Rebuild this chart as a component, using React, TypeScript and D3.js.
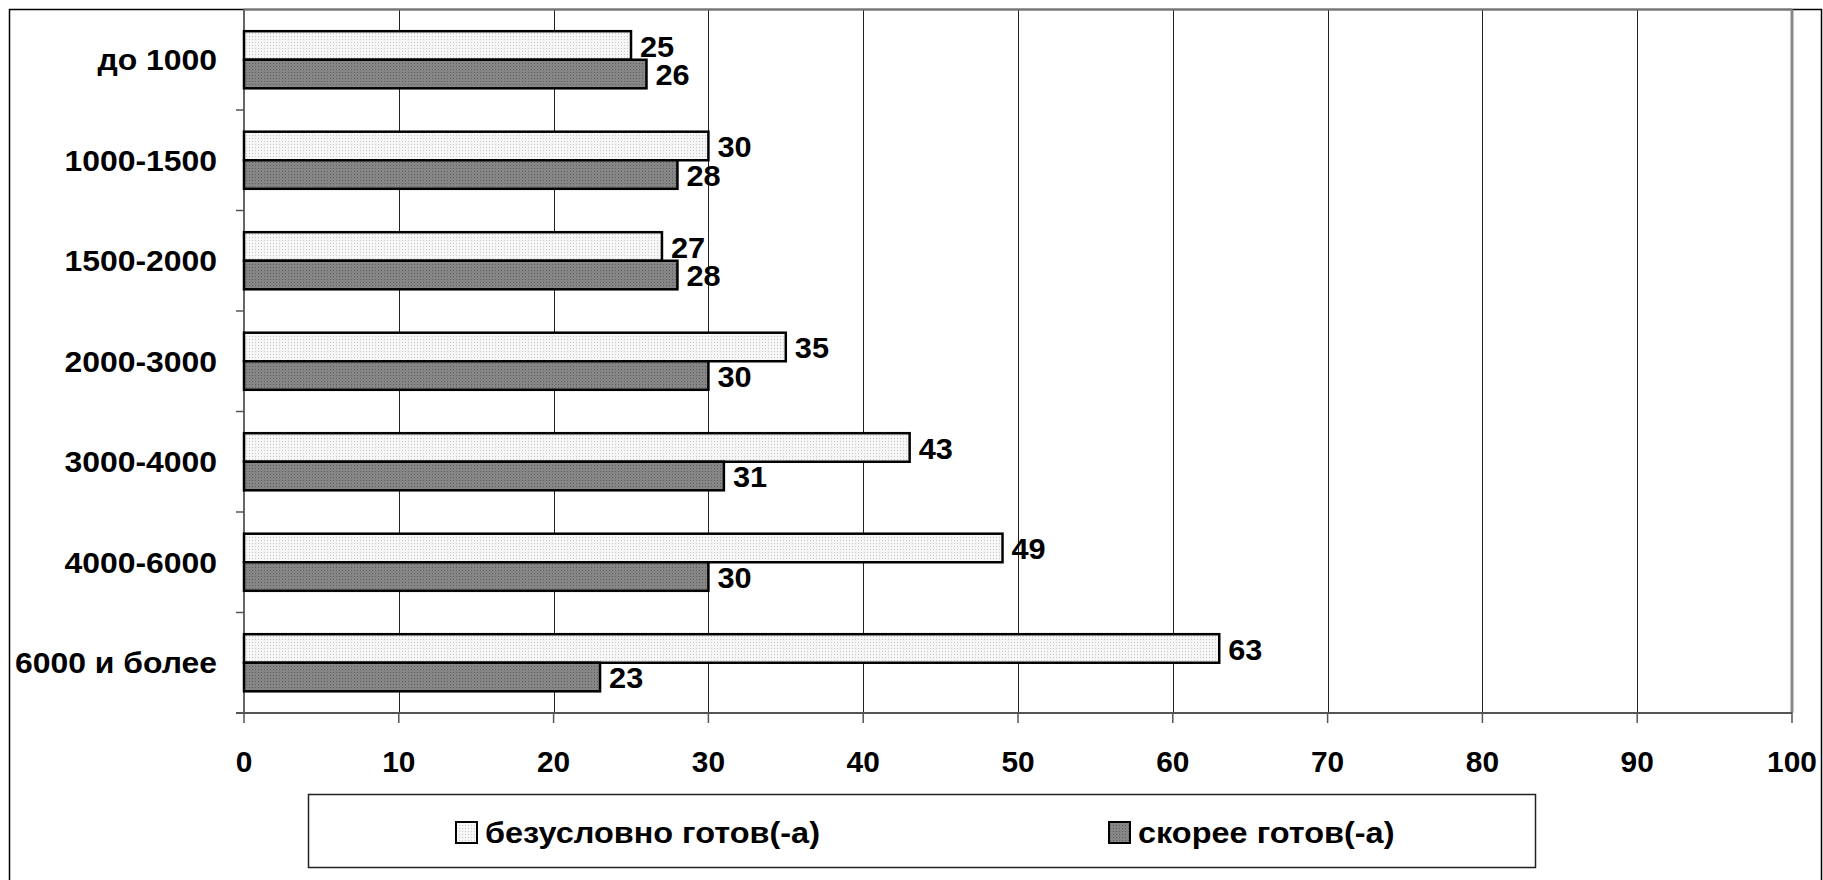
import React, { useEffect, useRef } from 'react';
import * as d3 from 'd3';

const categories = ['до 1000', '1000-1500', '1500-2000', '2000-3000', '3000-4000', '4000-6000', '6000 и более'];
const seriesNames = ['безусловно готов(-а)', 'скорее готов(-а)'];
const definitelyValues = [25, 30, 27, 35, 43, 49, 63];
const ratherValues = [26, 28, 28, 30, 31, 30, 23];
const xTicks = [0, 10, 20, 30, 40, 50, 60, 70, 80, 90, 100];

const W = 1823;
const H = 880;

const App: React.FC = () => {
  const ref = useRef<SVGSVGElement>(null);

  useEffect(() => {
    if (!ref.current) return;
    const svg = d3.select(ref.current);
    svg.selectAll('*').remove();

    const font = '"Liberation Sans", Arial, sans-serif';
    const plot = { left: 244, right: 1792, top: 9.5, bottom: 713 };

    // motifs pointillés des barres
    const defs = svg.append('defs');
    const light = defs.append('pattern').attr('id', 'pat-light')
      .attr('width', 3).attr('height', 3).attr('patternUnits', 'userSpaceOnUse');
    light.append('rect').attr('width', 3).attr('height', 3).attr('fill', '#f6f6f6');
    light.append('rect').attr('width', 1).attr('height', 1).attr('fill', '#c8c8c8');
    const dark = defs.append('pattern').attr('id', 'pat-dark')
      .attr('width', 3).attr('height', 3).attr('patternUnits', 'userSpaceOnUse');
    dark.append('rect').attr('width', 3).attr('height', 3).attr('fill', '#868686');
    dark.append('rect').attr('width', 1).attr('height', 1).attr('fill', '#5e5e5e');
    const fills = ['url(#pat-light)', 'url(#pat-dark)'];

    svg.append('rect').attr('width', W).attr('height', H).attr('fill', '#fff');

    // cadre extérieur
    svg.append('rect')
      .attr('x', 9.5).attr('y', 9.5).attr('width', 1812).attr('height', H)
      .attr('fill', 'none').attr('stroke', '#000').attr('stroke-width', 1.5);

    const x = d3.scaleLinear().domain([0, 100]).range([plot.left, plot.right]);
    const y = d3.scaleBand<string>().domain(categories).range([plot.top, plot.bottom]).padding(0);
    const inner = d3.scaleBand<string>().domain(seriesNames).range([0, y.bandwidth()])
      .paddingInner(0).paddingOuter(0.76);

    // grille verticale
    svg.append('g').selectAll('line').data(xTicks.slice(1, -1)).enter().append('line')
      .attr('x1', d => Math.round(x(d)) + 0.5).attr('x2', d => Math.round(x(d)) + 0.5)
      .attr('y1', plot.top).attr('y2', plot.bottom)
      .attr('stroke', '#222').attr('stroke-width', 1);

    // bord de la zone de tracé
    svg.append('line').attr('x1', plot.left).attr('x2', plot.right)
      .attr('y1', plot.top).attr('y2', plot.top).attr('stroke', '#777').attr('stroke-width', 2);
    svg.append('line').attr('x1', plot.right).attr('x2', plot.right)
      .attr('y1', plot.top).attr('y2', plot.bottom).attr('stroke', '#888').attr('stroke-width', 3);

    // axe Y
    svg.append('line').attr('x1', plot.left).attr('x2', plot.left)
      .attr('y1', plot.top).attr('y2', plot.bottom).attr('stroke', '#666').attr('stroke-width', 2);
    const bounds = categories.map(c => (y(c) as number) + y.bandwidth());
    svg.append('g').selectAll('line').data(bounds).enter().append('line')
      .attr('x1', plot.left - 8).attr('x2', plot.left)
      .attr('y1', d => d).attr('y2', d => d)
      .attr('stroke', '#555').attr('stroke-width', 1.5);

    // axe X
    svg.append('line').attr('x1', plot.left - 8).attr('x2', plot.right)
      .attr('y1', plot.bottom).attr('y2', plot.bottom).attr('stroke', '#555').attr('stroke-width', 2);
    svg.append('g').selectAll('line').data(xTicks).enter().append('line')
      .attr('x1', d => x(d)).attr('x2', d => x(d))
      .attr('y1', plot.bottom).attr('y2', plot.bottom + 10)
      .attr('stroke', '#555').attr('stroke-width', 1.5);
    svg.append('g').selectAll('text').data(xTicks).enter().append('text')
      .attr('transform', d => `translate(${x(d)},762) scale(1.03,1)`)
      .attr('text-anchor', 'middle').attr('dominant-baseline', 'central')
      .attr('font-family', font).attr('font-weight', 'bold').attr('font-size', 29)
      .text(d => d);

    // étiquettes des catégories (texte un peu étiré en largeur)
    svg.append('g').selectAll('text').data(categories).enter().append('text')
      .attr('transform', d => `translate(217,${(y(d) as number) + y.bandwidth() / 2}) scale(1.1,1)`)
      .attr('text-anchor', 'end').attr('dominant-baseline', 'central')
      .attr('font-family', font).attr('font-weight', 'bold').attr('font-size', 29)
      .text(d => d);

    // barres
    const series = [definitelyValues, ratherValues];
    series.forEach((vals, si) => {
      const name = seriesNames[si];
      const g = svg.append('g');
      g.selectAll('rect').data(vals).enter().append('rect')
        .attr('x', x(0))
        .attr('y', (d, i) => (y(categories[i]) as number) + (inner(name) as number))
        .attr('width', d => x(d) - x(0))
        .attr('height', inner.bandwidth())
        .attr('fill', fills[si]).attr('stroke', '#000').attr('stroke-width', 2.5);
      g.selectAll('text').data(vals).enter().append('text')
        .attr('transform', (d, i) =>
          `translate(${x(d) + 9},${(y(categories[i]) as number) + (inner(name) as number) + inner.bandwidth() / 2 + 1}) scale(1.06,1)`)
        .attr('dominant-baseline', 'central')
        .attr('font-family', font).attr('font-weight', 'bold').attr('font-size', 29)
        .text(d => d);
    });

    // légende
    svg.append('rect').attr('x', 308.5).attr('y', 794.5).attr('width', 1227).attr('height', 73)
      .attr('fill', '#fff').attr('stroke', '#222').attr('stroke-width', 1.5);
    const legendX = [456, 1109];
    seriesNames.forEach((name, i) => {
      svg.append('rect').attr('x', legendX[i]).attr('y', 822).attr('width', 21).attr('height', 21)
        .attr('fill', fills[i]).attr('stroke', '#000').attr('stroke-width', 2);
      svg.append('text')
        .attr('transform', `translate(${legendX[i] + 29},833) scale(1.12,1)`)
        .attr('dominant-baseline', 'central')
        .attr('font-family', font).attr('font-weight', 'bold').attr('font-size', 29)
        .text(name);
    });
  }, []);

  return (
    <svg ref={ref} width={W} height={H}
      style={{ position: 'absolute', left: 0, top: 0, display: 'block' }} />
  );
};

export default App;
